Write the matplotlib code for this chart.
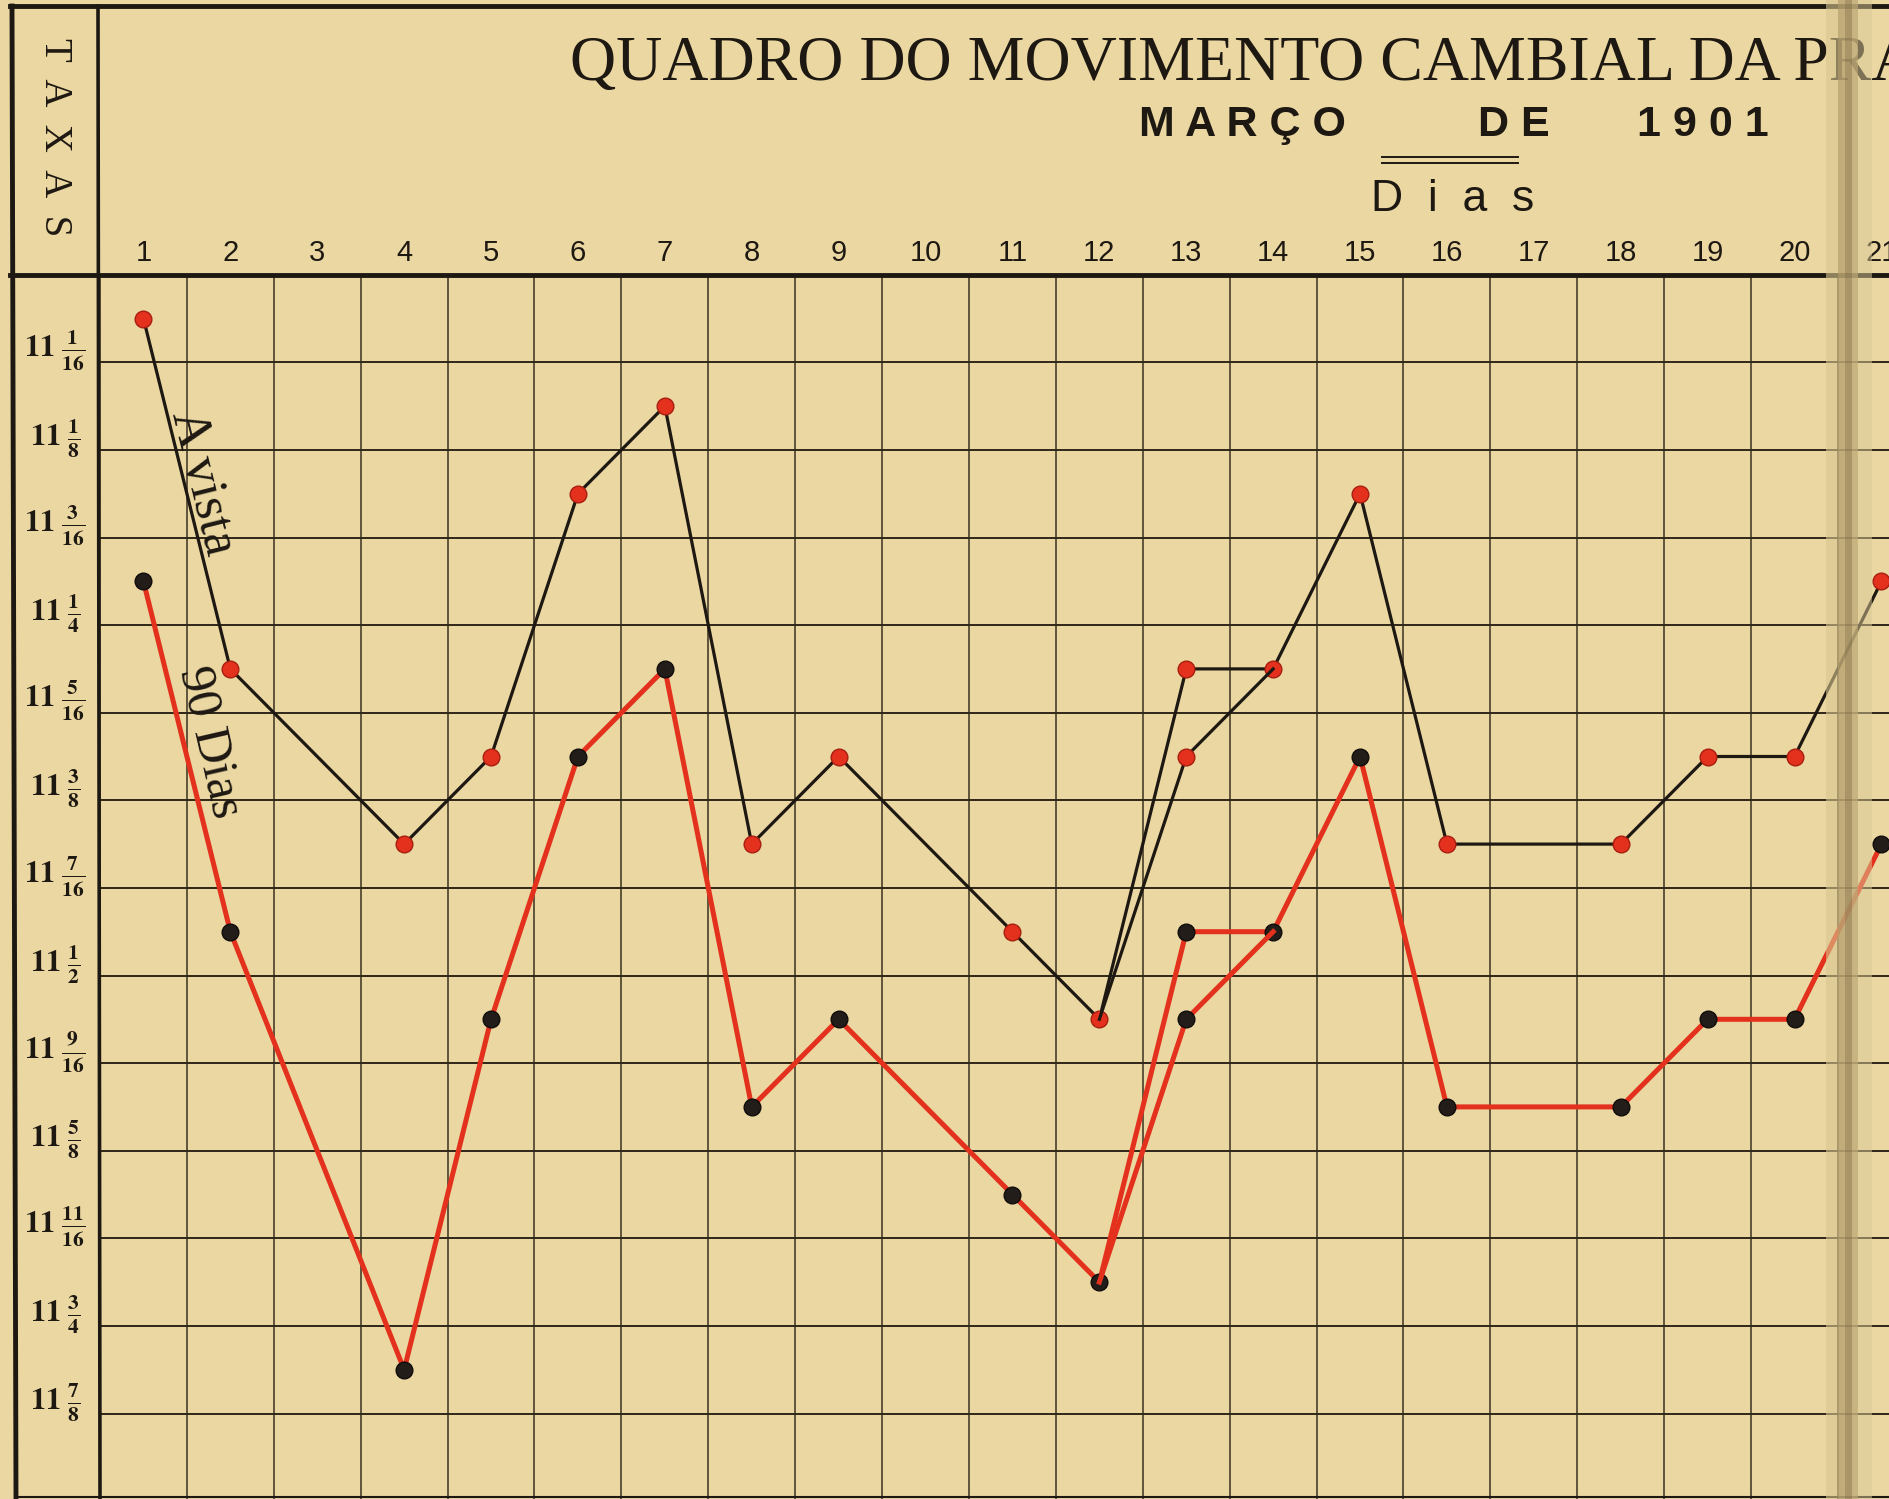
import matplotlib
matplotlib.use("Agg")
import matplotlib.pyplot as plt
from matplotlib.patches import Rectangle
from matplotlib.lines import Line2D

# Quadro do movimento cambial - Março de 1901 (taxas em dinheiros por mil réis)
days = [1, 2, 4, 5, 6, 7, 8, 9, 11, 12, 13, 14, 15, 16, 18, 19, 20, 21]
a_vista = [11.03125, 11.28125, 11.40625, 11.34375, 11.15625, 11.09375,
           11.40625, 11.34375, 11.46875, 11.53125, 11.28125, 11.28125,
           11.15625, 11.40625, 11.40625, 11.34375, 11.34375, 11.21875]
noventa_dias = [11.21875, 11.46875, 11.78125, 11.53125, 11.34375, 11.28125,
                11.59375, 11.53125, 11.65625, 11.71875, 11.46875, 11.46875,
                11.34375, 11.59375, 11.59375, 11.53125, 11.53125, 11.40625]
# segundo registo do dia 13 (linha dupla 12 -> 13 -> 14)
alt_days = [12, 13, 14]
a_vista_alt = [11.53125, 11.34375, 11.28125]
noventa_alt = [11.71875, 11.53125, 11.46875]

tick_rates = [11 + k / 16 for k in range(1, 14)]
tick_fracs = [("1", "16"), ("1", "8"), ("3", "16"), ("1", "4"), ("5", "16"),
              ("3", "8"), ("7", "16"), ("1", "2"), ("9", "16"), ("5", "8"),
              ("11", "16"), ("3", "4"), ("7", "8")]
day_labels = [str(d) for d in range(1, 22)]

W, H = 1889, 1499
CELL_W, CELL_H = 86.9, 87.6
X0, Y0 = 100, 274.7          # canto do quadro (pixels)
PAPER = "#EAD7A1"
INK = "#1E1812"
RED = "#E3311D"

plt.rcParams["mathtext.fontset"] = "stix"

fig = plt.figure(figsize=(W / 100, H / 100), dpi=100, facecolor=PAPER)
ax = fig.add_axes([0, 0, 1, 1])
ax.set_facecolor(PAPER)
ax.set_xlim(0.5 - X0 / CELL_W, 0.5 + (W - X0) / CELL_W)
ax.set_ylim(11 + (H - Y0) / CELL_H / 16, 11 - Y0 / CELL_H / 16)
ax.axis("off")
xmin, xmax = ax.get_xlim()
ybot, ytop = ax.get_ylim()


def fx(x):
    return x / W


def fy(y):
    return 1 - y / H


# quadricula
for d in range(0, 21):
    ax.plot([d + 0.5, d + 0.5], [11, ybot], color="#3A3020", lw=1.1, zorder=1)
for r in tick_rates:
    ax.plot([0.5, xmax], [r, r], color="#2E2618", lw=1.4, zorder=1)

# moldura
frame = [((10, 6), (W, 6), 3.5), ((12, 6), (16, H), 3.5),
         ((98, 6), (100, H), 2.6), ((10, Y0), (W, Y0), 3.5),
         ((16, H - 2), (W, H - 2), 1.5)]
for (xa, ya), (xb, yb), lw in frame:
    fig.add_artist(Line2D([fx(xa), fx(xb)], [fy(ya), fy(yb)], color=INK, lw=lw,
                          transform=fig.transFigure, zorder=2))

# series
ax.plot(days, noventa_dias, color=RED, lw=3.6, zorder=3,
        marker="o", ms=12, mfc="#221D19", mec="#100C0A", mew=1)
ax.plot(alt_days, noventa_alt, color=RED, lw=3.6, zorder=3,
        marker="o", ms=12, mfc="#221D19", mec="#100C0A", mew=1, markevery=[1])
ax.plot(days, a_vista, color=INK, lw=2.3, zorder=4,
        marker="o", ms=12, mfc=RED, mec="#A81E10", mew=1)
ax.plot(alt_days, a_vista_alt, color=INK, lw=2.3, zorder=4,
        marker="o", ms=12, mfc=RED, mec="#A81E10", mew=1, markevery=[1])

# rotulos das series
fig.text(fx(202), fy(482), "A vista", rotation=-76, rotation_mode="anchor",
         ha="center", va="center", fontsize=38, family="Liberation Serif", color=INK)
fig.text(fx(210), fy(742), "90 Dias", rotation=-77, rotation_mode="anchor",
         ha="center", va="center", fontsize=36, family="Liberation Serif", color=INK)

# eixo das taxas
for r, (num, den) in zip(tick_rates, tick_fracs):
    lab = r"$\mathbf{11}\ \frac{\mathbf{%s}}{\mathbf{%s}}$" % (num, den)
    ax.text(0.5 - (X0 - 55) / CELL_W, r - 0.13 / 16, lab, ha="center", va="center",
            fontsize=22, color=INK)

# dias
for d, lab in zip(range(1, 22), day_labels):
    ax.text(d, 11 - 0.16 / 16, lab, ha="center", va="baseline",
            fontsize=21, family="Liberation Sans", color=INK)

# cabecalho
fig.text(fx(54), fy(137), "T  A  X  A  S", rotation=-90, ha="center", va="center",
         fontsize=28, family="Liberation Serif", color=INK)
fig.text(fx(570), fy(80), "QUADRO DO MOVIMENTO CAMBIAL DA PRAÇA", ha="left",
         va="baseline", fontsize=46, family="Liberation Serif", color=INK)
for x, word in [(1242, "M A R Ç O"), (1514, "D E"), (1703, "1 9 0 1")]:
    fig.text(fx(x), fy(136), word, ha="center", va="baseline", fontsize=31,
             fontweight="bold", family="Liberation Sans", color=INK)
fig.text(fx(1453), fy(211), "D  i  a  s", ha="center", va="baseline", fontsize=32,
         family="Liberation Sans", color=INK)
for y in (157, 163):
    fig.add_artist(Line2D([fx(1382), fx(1518)], [fy(y), fy(y)], color=INK, lw=1.4,
                          transform=fig.transFigure))

# dobra da pagina
fold = [(1826, 1838, "#D9C68F", 0.6), (1838, 1845, "#BCA674", 0.85),
        (1845, 1852, "#A28E62", 0.9), (1852, 1858, "#C2AE7B", 0.85),
        (1858, 1872, "#DCCB98", 0.5)]
for xa, xb, c, a in fold:
    fig.add_artist(Rectangle((fx(xa), 0), fx(xb) - fx(xa), 1, color=c, alpha=a,
                             lw=0, transform=fig.transFigure, zorder=10))

fig.savefig("out.png", dpi=100, facecolor=PAPER)
